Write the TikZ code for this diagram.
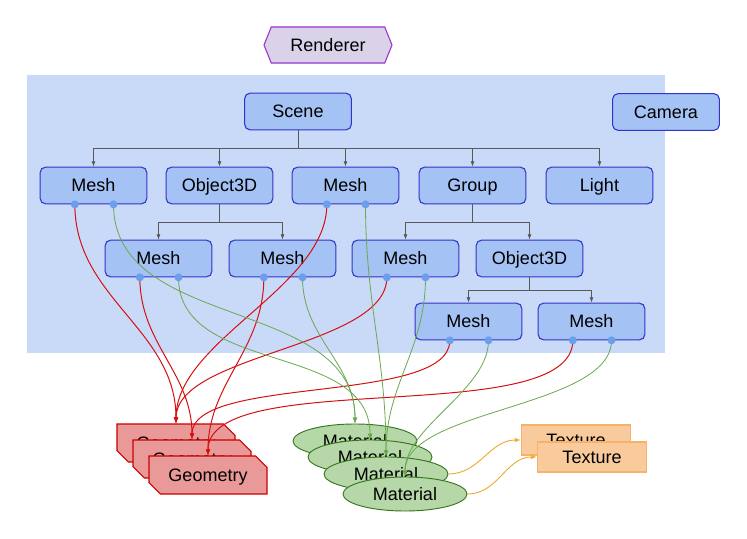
\documentclass[tikz,border=0pt]{standalone}
\usepackage{fontspec}
\setmainfont{Liberation Sans}
\usetikzlibrary{
  arrows.meta,
  shapes.misc,
  shapes.symbols,
  shapes.geometric,
  positioning
}
\definecolor{scenebg}{RGB}{201, 218, 248}
\definecolor{objfill}{RGB}{164, 194, 244}
\definecolor{objborder}{RGB}{51, 51, 204}
\definecolor{dotcolor}{RGB}{109, 158, 235}
\definecolor{treecolor}{RGB}{89, 89, 89}
\definecolor{rendfill}{RGB}{217, 210, 233}
\definecolor{rendborder}{RGB}{153, 51, 204}
\definecolor{geomfill}{RGB}{234, 153, 153}
\definecolor{geomborder}{RGB}{204, 0, 0}
\definecolor{matfill}{RGB}{182, 215, 168}
\definecolor{matborder}{RGB}{56, 118, 29}
\definecolor{texfill}{RGB}{249, 203, 156}
\definecolor{texborder}{RGB}{246, 178, 107}
\definecolor{geomline}{RGB}{214, 16, 16}
\definecolor{matline}{RGB}{106, 168, 79}
\definecolor{texline}{RGB}{241, 170, 50}
\tikzset{
nodetext/.style={
  font=\fontsize{13.5}{15}\selectfont,
  text=black,
  text height=11pt,
  text depth=1.5pt,
  align=center
},
objbox/.style={
  draw=objborder,
  fill=objfill,
  rounded corners=4pt,
  line width=0.8pt,
  minimum width=80pt,
  minimum height=27.5pt,
  nodetext
},
rendbox/.style={
  signal,
  signal to=west and east,
  signal pointer angle=136,
  draw=rendborder,
  fill=rendfill,
  line width=0.8pt,
  minimum width=96pt,
  minimum height=27pt,
  nodetext
},
geombox/.style={
  chamfered rectangle,
  chamfered rectangle corners={north east,south west},
  chamfered rectangle xsep=5pt,
  draw=geomborder,
  fill=geomfill,
  line width=0.8pt,
  minimum width=88.5pt,
  minimum height=28.5pt,
  nodetext
},
matbox/.style={
  ellipse,
  draw=matborder,
  fill=matfill,
  line width=0.7pt,
  minimum width=93pt,
  minimum height=25.5pt,
  inner sep=0pt,
  nodetext
},
texbox/.style={
  draw=texborder,
  fill=texfill,
  line width=0.8pt,
  minimum width=82pt,
  minimum height=22.5pt,
  inner sep=2pt,
  nodetext
},
linkdot/.style={
  circle,
  fill=dotcolor,
  inner sep=0pt,
  minimum size=6pt
},
treearrow/.style={
  -{Latex[length=4pt,width=3pt]},
  line width=0.6pt,
  draw=treecolor
},
geomlink/.style={
  -{Latex[length=4.5pt,width=3.5pt]},
  line width=0.75pt,
  draw=geomline
},
matlink/.style={
  -{Latex[length=4.5pt,width=3.5pt]},
  line width=0.6pt,
  draw=matline
},
texlink/.style={
  -{Latex[length=4.5pt,width=3.5pt]},
  line width=0.7pt,
  draw=texline
}
}

\begin{document}
\begin{tikzpicture}[x=0.75pt, y=-0.75pt]
  \useasboundingbox (0,0) rectangle (747,539);
  \fill[white] (0,0) rectangle (747,539);
  % scene area
  \fill[scenebg] (27,75) rectangle (665,353);

  \node[rendbox] (renderer) at (328,45) {Renderer};

  % scene graph
  \node[objbox] (scene)  at (298,111.5) {Scene};
  \node[objbox] (camera) at (666,112) {Camera};

  \node[objbox] (meshA) at (93.5,185.5)  {Mesh};
  \node[objbox] (objA)  at (219.5,185.5) {Object3D};
  \node[objbox] (meshB) at (345.5,185.5) {Mesh};
  \node[objbox] (group) at (472.5,185.5) {Group};
  \node[objbox] (light) at (599.5,185.5) {Light};

  \node[objbox] (meshC) at (158.5,258.5) {Mesh};
  \node[objbox] (meshD) at (282.5,258.5) {Mesh};
  \node[objbox] (meshE) at (405.5,258.5) {Mesh};
  \node[objbox] (objB)  at (529.5,258.5) {Object3D};

  \node[objbox] (meshF) at (468.5,321.5) {Mesh};
  \node[objbox] (meshG) at (591.5,321.5) {Mesh};

  \foreach \c in {meshA,objA,meshB,group,light}
    \draw[treearrow] (scene.south) -- ++(0,18) -| (\c.north);
  \foreach \c in {meshC,meshD}
    \draw[treearrow] (objA.south) -- ++(0,18) -| (\c.north);
  \foreach \c in {meshE,objB}
    \draw[treearrow] (group.south) -- ++(0,18) -| (\c.north);
  \foreach \c in {meshF,meshG}
    \draw[treearrow] (objB.south) -- ++(0,13) -| (\c.north);

  % geometry / material attach points
  \foreach \m in {meshA,meshB,meshC,meshD,meshE,meshF,meshG} {
    \coordinate (\m-g) at ([xshift=-14pt]\m.south);
    \coordinate (\m-m) at ([xshift=15pt]\m.south);
  }

  % shared resources
  \node[geombox] (geomA) at (176,443) {Geometry};
  \node[geombox] (geomB) at (192,459) {Geometry};
  \node[geombox] (geomC) at (208,475) {Geometry};

  \node[matbox] (matA) at (355,441) {Material};
  \node[matbox] (matB) at (370,457) {Material};
  \node[matbox] (matC) at (386,474) {Material};
  \node[matbox] (matD) at (405,494) {Material};

  \node[texbox] (texA) at (576,440) {Texture};
  \node[texbox] (texB) at (592,457) {Texture};

  % links
  \foreach \s/\t/\l in {meshA/geomA/1, meshB/geomA/0.8, meshE/geomA/0.7,
                        meshC/geomB/1, meshF/geomB/0.6,
                        meshD/geomC/1, meshG/geomC/0.6}
    \draw[geomlink] (\s-g) to[out=-90, in=90, looseness=\l] (\t.north);
  \foreach \s/\t/\l in {meshA/matA/1, meshD/matA/1, meshC/matB/1,
                        meshB/matC/1, meshE/matC/1,
                        meshF/matD/0.8, meshG/matD/0.7}
    \draw[matlink] (\s-m) to[out=-90, in=90, looseness=\l] (\t.north);
  \draw[texlink] (matC.east) to[out=0, in=180] (texA.west);
  \draw[texlink] (matD.east) to[out=0, in=180] (texB.west);

  \foreach \m in {meshA,meshB,meshC,meshD,meshE,meshF,meshG} {
    \node[linkdot] (\m-gdot) at (\m-g) {};
    \node[linkdot] (\m-mdot) at (\m-m) {};
  }
\end{tikzpicture}
\end{document}
